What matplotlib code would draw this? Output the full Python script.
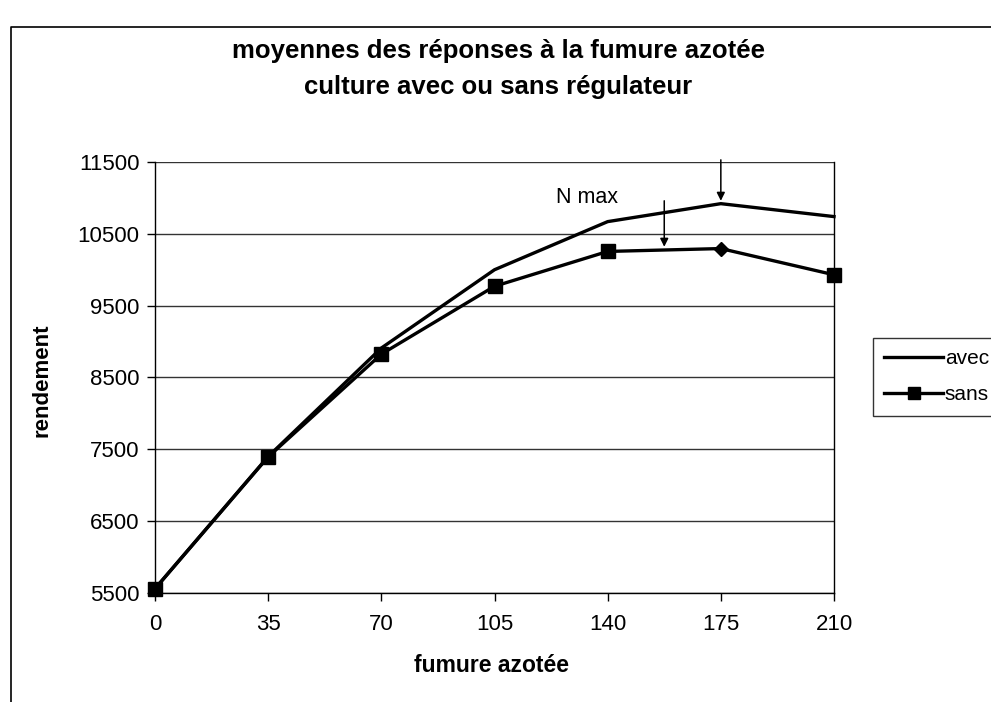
import matplotlib.pyplot as plt
from matplotlib.lines import Line2D

plt.rcParams['font.family'] = ['Liberation Sans', 'DejaVu Sans']

# doses d'azote
fumure = [0, 35, 70, 105, 140, 175, 210]
# rendements
avec = [5560, 7400, 8910, 10000, 10670, 10920, 10740]
sans = [5560, 7395, 8825, 9770, 10255, 10295, 9930]
y_ticks = [5500, 6500, 7500, 8500, 9500, 10500, 11500]
titre = 'moyennes des réponses à la fumure azotée\nculture avec ou sans régulateur'

fig = plt.figure(figsize=(9.91, 7.02), dpi=100)
ax = fig.add_axes([155 / 991, 1 - 593 / 702, 679 / 991, 431 / 702])

ax.plot(fumure, avec, color='black', linewidth=2.4, label='avec', clip_on=False, zorder=3)
ax.plot(fumure, sans, color='black', linewidth=2.4, marker='s', markersize=10,
        markevery=[0, 1, 2, 3, 4, 6], label='sans', clip_on=False, zorder=3)
# point 175 du "sans" : losange
ax.plot([fumure[5]], [sans[5]], linestyle='none', marker='D', markersize=7,
        color='black', clip_on=False, zorder=4)

ax.set_xlim(0, 210)
ax.set_ylim(5500, 11500)
ax.set_xticks(fumure)
ax.set_yticks(y_ticks)
ax.tick_params(axis='both', labelsize=16, direction='out', length=6, width=1)
ax.tick_params(axis='x', pad=9)
ax.tick_params(axis='y', pad=5)
ax.yaxis.grid(True, color='#333333', linewidth=1)
ax.set_axisbelow(True)
for s in ax.spines.values():
    s.set_linewidth(1)
    s.set_color('black')
ax.spines['top'].set_visible(False)

# fleches N max
arr = dict(arrowstyle='-|>', color='black', lw=1.1, mutation_scale=12, shrinkA=0, shrinkB=0)
ax.annotate('', xy=(175, 10960), xytext=(175, 11530), arrowprops=arr, annotation_clip=False)
ax.annotate('', xy=(157.5, 10320), xytext=(157.5, 10960), arrowprops=arr, annotation_clip=False)
ax.text(133.5, 11000, 'N max', fontsize=15.5, ha='center', va='center')

fig.text(498 / 991, 1 - 69 / 702, titre, fontsize=18.5, fontweight='bold',
         ha='center', va='center', linespacing=1.62)
fig.text(42 / 991, 1 - 380 / 702, 'rendement', fontsize=16, fontweight='bold',
         rotation=90, ha='center', va='center')
fig.text(492 / 991, 1 - 665 / 702, 'fumure azotée', fontsize=16.5, fontweight='bold',
         ha='center', va='center')

handles = [Line2D([], [], color='black', lw=2.4),
           Line2D([], [], color='black', lw=2.4, marker='s', markersize=8)]
leg = fig.legend(handles, ['avec', 'sans'], loc='upper left',
                 bbox_to_anchor=(873 / 991, 1 - 338 / 702), fontsize=15,
                 frameon=True, fancybox=False, borderaxespad=0, borderpad=0.55,
                 handlelength=2.8, handletextpad=0.1, labelspacing=0.8)
leg.get_frame().set_edgecolor('black')
leg.get_frame().set_linewidth(1)

# cadre du graphique
fig.add_artist(Line2D([11 / 991, 11 / 991, 1], [0, 1 - 27 / 702, 1 - 27 / 702],
                      color='black', linewidth=1.2))

fig.savefig('out.png', dpi=100)
